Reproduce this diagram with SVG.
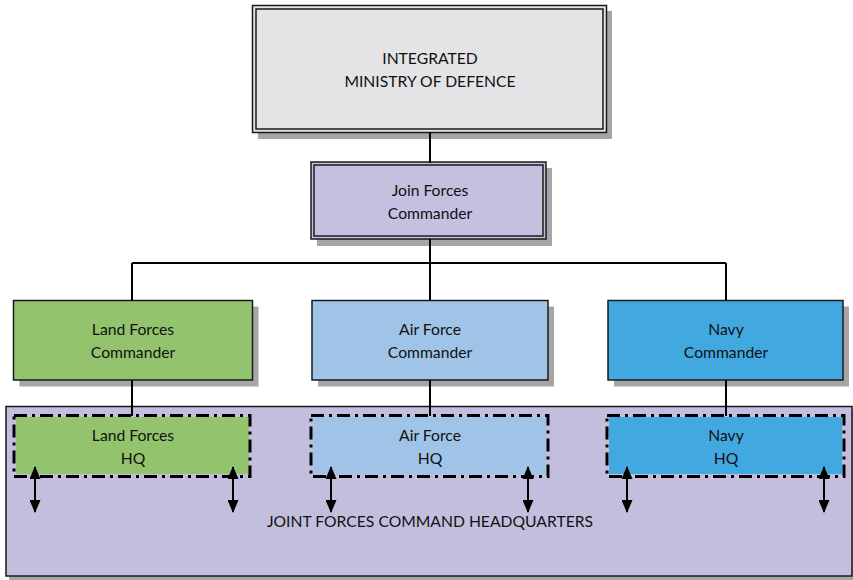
<svg xmlns="http://www.w3.org/2000/svg" width="853" height="580" viewBox="0 0 853 580">
<defs>
<style>
.t{font-family:Lato,"Liberation Sans",sans-serif;font-size:15.7px;fill:#111;text-anchor:middle}
.sh{fill:#a6a6a6}
.box{stroke:#1a1a1a;stroke-width:1.5}
.hq{fill:none;stroke:#000;stroke-width:3;stroke-dasharray:13 5 3 5}
.ln{stroke:#000;stroke-width:2;fill:none}
.ar{stroke:#000;stroke-width:2;fill:none;marker-start:url(#ah);marker-end:url(#ah)}
</style>
<marker id="ah" viewBox="0 0 13 11" refX="12" refY="5.5" markerWidth="13" markerHeight="11" orient="auto-start-reverse" markerUnits="userSpaceOnUse">
<path d="M0,0 L13,5.5 L0,11 z" fill="#000"/>
</marker>
</defs>
<rect width="853" height="580" fill="#fff"/>
<g id="jfchq">
<rect class="sh" x="9" y="410" width="845" height="170"/>
<rect x="6" y="406.5" width="846" height="169.5" fill="#c4bede" class="box"/>
<text class="t" x="430" y="527">JOINT FORCES COMMAND HEADQUARTERS</text>
</g>
<g id="mod">
<rect class="sh" x="258" y="11" width="354" height="128"/>
<rect x="252.5" y="5.5" width="354" height="127" fill="#e4e4e6" class="box"/>
<rect x="256" y="9" width="347" height="120" fill="none" stroke="#1a1a1a" stroke-width="1.5"/>
<text class="t" x="430" y="64">INTEGRATED</text>
<text class="t" x="430" y="87">MINISTRY OF DEFENCE</text>
</g>
<g id="jfc">
<rect class="sh" x="317" y="168" width="235" height="78"/>
<rect x="311" y="162" width="235" height="77" fill="#c5bfe0" class="box"/>
<rect x="314" y="165" width="229" height="71" fill="none" stroke="#1a1a1a" stroke-width="1.5"/>
<text class="t" x="430" y="196">Join Forces</text>
<text class="t" x="430" y="219">Commander</text>
</g>
<g id="lfc">
<rect class="sh" x="19.5" y="306.5" width="239" height="80"/>
<rect x="13.5" y="300.5" width="239" height="79.5" fill="#93c46d" class="box"/>
<text class="t" x="133" y="335">Land Forces</text>
<text class="t" x="133" y="358">Commander</text>
</g>
<g id="afc">
<rect class="sh" x="318" y="306.5" width="236" height="80"/>
<rect x="312" y="300.5" width="236" height="79.5" fill="#a0c3e8" class="box"/>
<text class="t" x="430" y="335">Air Force</text>
<text class="t" x="430" y="358">Commander</text>
</g>
<g id="nc">
<rect class="sh" x="614" y="306.5" width="235" height="80"/>
<rect x="608" y="300.5" width="235" height="79.5" fill="#42a8e0" class="box"/>
<text class="t" x="726" y="335">Navy</text>
<text class="t" x="726" y="358">Commander</text>
</g>
<g id="lhq">
<rect x="16" y="417" width="233" height="57" fill="#93c46d"/>
<rect class="hq" x="14" y="415.5" width="236" height="61"/>
<text class="t" x="133" y="441">Land Forces</text>
<text class="t" x="133" y="464">HQ</text>
</g>
<g id="ahq">
<rect x="313" y="417" width="233" height="57" fill="#a0c3e8"/>
<rect class="hq" x="311" y="415.5" width="237" height="61"/>
<text class="t" x="430" y="441">Air Force</text>
<text class="t" x="430" y="464">HQ</text>
</g>
<g id="nhq">
<rect x="609" y="417" width="233" height="57" fill="#42a8e0"/>
<rect class="hq" x="607" y="415.5" width="237" height="61"/>
<text class="t" x="726" y="441">Navy</text>
<text class="t" x="726" y="464">HQ</text>
</g>
<g id="connectors">
<path class="ln" d="M430,132 V163 M430,239 V263 M132,263 H726 M132,263 V301 M430,263 V301 M726,263 V301 M132,380 V416 M430,380 V416 M726,380 V416"/>
<path class="ar" d="M35,467 V512"/>
<path class="ar" d="M233,467 V512"/>
<path class="ar" d="M331,467 V512"/>
<path class="ar" d="M528,467 V512"/>
<path class="ar" d="M627,467 V512"/>
<path class="ar" d="M824,467 V512"/>
</g>
</svg>
